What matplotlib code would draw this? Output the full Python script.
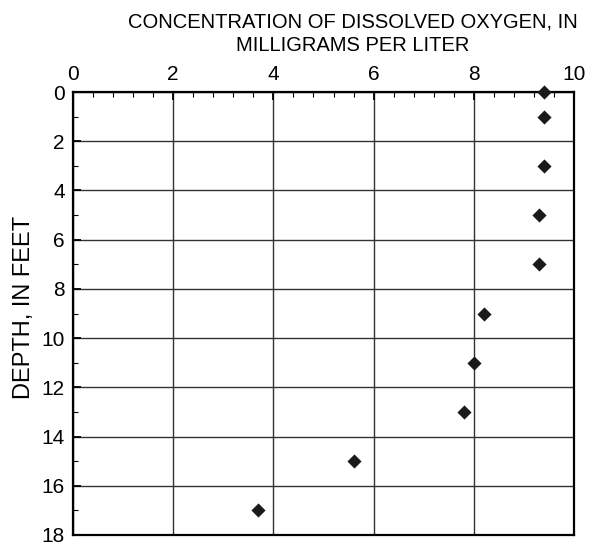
import matplotlib
matplotlib.use("Agg")
import matplotlib.pyplot as plt
from matplotlib.ticker import MultipleLocator

plt.rcParams['font.family'] = ['Liberation Sans', 'DejaVu Sans']

# Dissolved-oxygen profile
depth_ft = [0, 1, 3, 5, 7, 9, 11, 13, 15, 17]
do_mgl = [9.4, 9.4, 9.4, 9.3, 9.3, 8.2, 8.0, 7.8, 5.6, 3.7]

x_label = "CONCENTRATION OF DISSOLVED OXYGEN, IN\nMILLIGRAMS PER LITER"
y_label = "DEPTH, IN FEET"

W, H = 589, 545
fig = plt.figure(figsize=(W / 100, H / 100), dpi=100)
left, right, top, bottom = 73, 574, 92, 535
ax = fig.add_axes([left / W, 1 - bottom / H, (right - left) / W, (bottom - top) / H])

ax.scatter(do_mgl, depth_ft, marker='D', s=52, color='#1a1a1a', zorder=5,
           clip_on=False, linewidths=0)

ax.set_xlim(0, 10)
ax.set_ylim(18, 0)
ax.xaxis.set_major_locator(MultipleLocator(2))
ax.xaxis.set_minor_locator(MultipleLocator(0.4))
ax.yaxis.set_major_locator(MultipleLocator(2))
ax.yaxis.set_minor_locator(MultipleLocator(1))

ax.xaxis.tick_top()
ax.tick_params(axis='x', which='both', direction='in', bottom=False, top=True,
               labelsize=15, pad=6)
ax.tick_params(axis='y', which='both', direction='in', right=False,
               labelsize=15, pad=6)
ax.tick_params(which='major', length=6, width=1.3)
ax.tick_params(which='minor', length=3.5, width=0.8)

ax.grid(True, which='major', color='#333333', linewidth=1.0)
ax.set_axisbelow(True)

for side in ax.spines.values():
    side.set_linewidth(1.6)
    side.set_color('black')

fig.text(353 / W, 1 - 12 / H, x_label, fontsize=14.5, ha='center', va='top',
         linespacing=1.33, multialignment='center')
fig.text(24 / W, 1 - 307 / H, y_label, fontsize=17, ha='center', va='center',
         rotation=90)

fig.savefig("out.png", dpi=100)
